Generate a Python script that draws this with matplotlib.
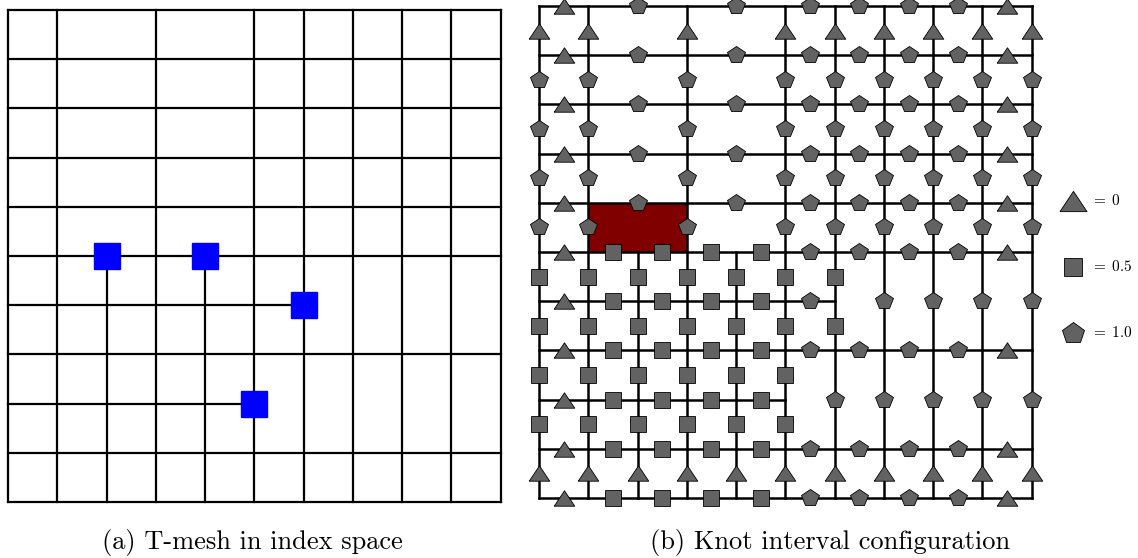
import matplotlib
matplotlib.use('Agg')
import matplotlib.pyplot as plt
from matplotlib.patches import Rectangle

plt.rcParams['mathtext.fontset'] = 'cm'

# T-mesh topology in index space
# horizontal lines: (j, i_start, i_end)
h_lines = [(0, 0, 10), (1, 0, 10), (2, 0, 5), (3, 0, 10), (4, 0, 6),
           (5, 0, 10), (6, 0, 10), (7, 0, 10), (8, 0, 10), (9, 0, 10), (10, 0, 10)]
# vertical lines: (i, j_start, j_end)
v_lines = [(0, 0, 10), (1, 0, 10), (2, 0, 5), (3, 0, 10), (4, 0, 5),
           (5, 0, 10), (6, 0, 10), (7, 0, 10), (8, 0, 10), (9, 0, 10), (10, 0, 10)]

# knot intervals of each index column / row
col_knots = [0, 0.5, 0.5, 0.5, 0.5, 1.0, 1.0, 1.0, 1.0, 0]
row_knots = [0, 0.5, 0.5, 0.5, 0.5, 1.0, 1.0, 1.0, 1.0, 0]

# T-junctions marked in (a)
tj_i = [2, 4, 6, 5]
tj_j = [5, 5, 4, 2]

# highlighted face in (b): (i0, j0, i1, j1)
face = (1, 5, 3, 6)

legend_vals = [0, 0.5, 1.0]
legend_txt = [r'$=\;0$', r'$=\;0.5$', r'$=\;1.0$']

W, H = 1138, 558
fig = plt.figure(figsize=(W / 100, H / 100), dpi=100)

tri = [(-1, -0.75), (1, -0.75), (0, 0.75), (-1, -0.75)]
mstyle = {0: dict(marker=tri, ms=14.8),
          0.5: dict(marker='s', ms=12.2),
          1.0: dict(marker='p', ms=13.0)}
gray = '#626262'


def draw_mesh(ax, lw):
    for j, a, b in h_lines:
        ax.plot([a, b], [j, j], color='black', lw=lw, solid_capstyle='projecting',
                clip_on=False, zorder=2)
    for i, a, b in v_lines:
        ax.plot([i, i], [a, b], color='black', lw=lw, solid_capstyle='projecting',
                clip_on=False, zorder=2)


def edge_marks(lines, cross, knots):
    out = []
    for k, a, b in lines:
        verts = sorted(c for c, s, e in cross if a <= c <= b and s <= k <= e)
        for p, q in zip(verts[:-1], verts[1:]):
            out.append((k, (p + q) / 2, round(sum(knots[p:q]), 2)))
    return out


def setup(ax):
    ax.set_xlim(0, 10)
    ax.set_ylim(0, 10)
    ax.axis('off')


# (a) index space
ax_a = fig.add_axes([8 / W, (H - 502) / H, 492.7 / W, 492 / H])
setup(ax_a)
draw_mesh(ax_a, 1.6)
ax_a.plot(tj_i, tj_j, 's', color='#0000ff', ms=19.4, mec='#0000ff',
          clip_on=False, zorder=3)

# (b) knot intervals
ax_b = fig.add_axes([539 / W, (H - 498) / H, 492.7 / W, 492 / H])
setup(ax_b)
ax_b.add_patch(Rectangle((face[0], face[1]), face[2] - face[0], face[3] - face[1],
                         facecolor='#800000', edgecolor='none', zorder=1))
draw_mesh(ax_b, 1.8)

for j, mid, v in edge_marks(h_lines, v_lines, col_knots):
    ax_b.plot(mid, j, color=gray, mec='black', mew=0.6, clip_on=False, zorder=4,
              **mstyle[v])
for i, mid, v in edge_marks(v_lines, h_lines, row_knots):
    ax_b.plot(i, mid, color=gray, mec='black', mew=0.6, clip_on=False, zorder=4,
              **mstyle[v])

# legend
leg_sizes = {0: 19.5, 0.5: 13.5, 1.0: 16.0}
for k, (v, t) in enumerate(zip(legend_vals, legend_txt)):
    y = 6.04 - k * 1.34
    st = dict(mstyle[v])
    st['ms'] = leg_sizes[v]
    ax_b.plot(10.83, y, color=gray, mec='black', mew=0.6, clip_on=False, **st)
    ax_b.text(11.2, y, t, fontsize=11, ha='left', va='center')

fig.text(252 / W, 1 - 542 / H, '(a) T-mesh in index space', family='cmr10',
         fontsize=19, ha='center', va='center')
fig.text(830 / W, 1 - 542 / H, '(b) Knot interval configuration', family='cmr10',
         fontsize=19, ha='center', va='center')

fig.savefig('out.png', dpi=100)
